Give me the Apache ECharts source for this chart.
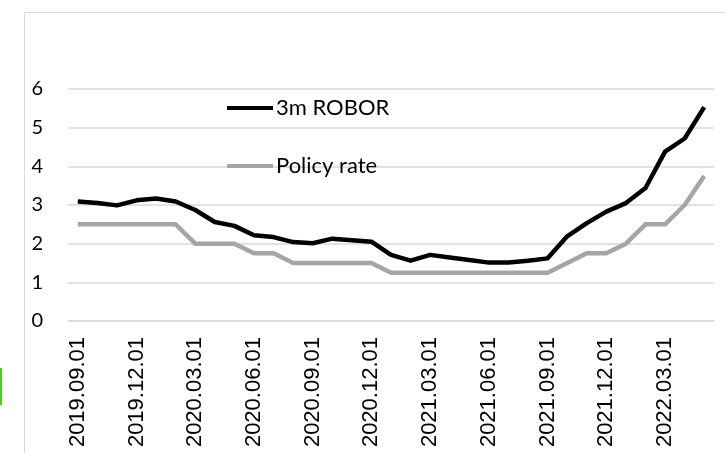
<!DOCTYPE html>
<html>
<head>
<meta charset="utf-8">
<title>3m ROBOR vs policy rate</title>
<script src="https://cdn.jsdelivr.net/npm/echarts@6/dist/echarts.min.js"></script>
<style>
  html, body { margin: 0; padding: 0; background: #fff; }
  #main { width: 725px; height: 453px; }
</style>
</head>
<body>
<div id="main"></div>
<script>
// monthly dates, 2019.09 .. 2022.05
let months = [
  '2019.09.01', '2019.10.01', '2019.11.01', '2019.12.01', '2020.01.01', '2020.02.01',
  '2020.03.01', '2020.04.01', '2020.05.01', '2020.06.01', '2020.07.01', '2020.08.01',
  '2020.09.01', '2020.10.01', '2020.11.01', '2020.12.01', '2021.01.01', '2021.02.01',
  '2021.03.01', '2021.04.01', '2021.05.01', '2021.06.01', '2021.07.01', '2021.08.01',
  '2021.09.01', '2021.10.01', '2021.11.01', '2021.12.01', '2022.01.01', '2022.02.01',
  '2022.03.01', '2022.04.01', '2022.05.01'
]
let robor = [
  3.09, 3.05, 2.99, 3.12, 3.17, 3.09,
  2.87, 2.56, 2.46, 2.22, 2.17, 2.04,
  2.01, 2.13, 2.09, 2.05, 1.71, 1.56,
  1.71, 1.64, 1.58, 1.51, 1.51, 1.56,
  1.62, 2.19, 2.53, 2.83, 3.05, 3.44,
  4.38, 4.72, 5.53
]
let policyRate = [
  2.5, 2.5, 2.5, 2.5, 2.5, 2.5,
  2.0, 2.0, 2.0, 1.75, 1.75, 1.5,
  1.5, 1.5, 1.5, 1.5, 1.25, 1.25,
  1.25, 1.25, 1.25, 1.25, 1.25, 1.25,
  1.25, 1.5, 1.75, 1.75, 2.0, 2.5,
  2.5, 3.0, 3.75
]
let yTicks = [0, 1, 2, 3, 4, 5, 6]

let chart = echarts.init(document.getElementById('main'))
let option = {
  animation: false,
  backgroundColor: '#fff',
  graphic: [
    // light frame of the chart area (only top and left edge are inside the picture)
    {
      type: 'rect',
      shape: { x: 24.5, y: 12.5, width: 760, height: 500 },
      style: { fill: 'none', stroke: '#d9d9d9', lineWidth: 1 }
    },
    // small green mark at the left edge
    {
      type: 'rect',
      shape: { x: 0, y: 368, width: 2, height: 37 },
      style: { fill: '#4fc72f' }
    }
  ],
  grid: {
    left: 68,
    right: 11,
    top: 89,
    bottom: 132
  },
  legend: {
    orient: 'vertical',
    left: 227,
    top: 97,
    padding: 0,
    itemGap: 36,
    itemWidth: 46,
    itemHeight: 4,
    icon: 'rect',
    textStyle: {
      fontFamily: 'Lato',
      fontSize: 22,
      lineHeight: 22,
      color: '#000',
      padding: [0, 0, 0, -2]
    },
    data: ['3m ROBOR', 'Policy rate']
  },
  xAxis: {
    type: 'category',
    boundaryGap: true,
    data: months,
    axisLine: { show: true, lineStyle: { color: '#d9d9d9', width: 1.5 } },
    axisTick: { show: false },
    axisLabel: {
      interval: 2,
      rotate: 90,
      margin: 16,
      fontFamily: 'Liberation Sans',
      fontSize: 22,
      color: '#000'
    }
  },
  yAxis: {
    type: 'value',
    min: yTicks[0],
    max: yTicks[yTicks.length - 1],
    interval: 1,
    axisLine: { show: false },
    axisTick: { show: false },
    splitLine: { lineStyle: { color: '#d9d9d9', width: 1.5 } },
    axisLabel: {
      margin: 25,
      fontFamily: 'Lato',
      fontSize: 20,
      color: '#000'
    }
  },
  series: [
    {
      name: '3m ROBOR',
      type: 'line',
      data: robor,
      showSymbol: false,
      symbol: 'none',
      itemStyle: { color: '#000' },
      lineStyle: { color: '#000', width: 4.5, join: 'round' }
    },
    {
      name: 'Policy rate',
      type: 'line',
      data: policyRate,
      showSymbol: false,
      symbol: 'none',
      itemStyle: { color: '#a5a5a5' },
      lineStyle: { color: '#a5a5a5', width: 4.5, join: 'round' }
    }
  ]
}
chart.setOption(option)
</script>
</body>
</html>
